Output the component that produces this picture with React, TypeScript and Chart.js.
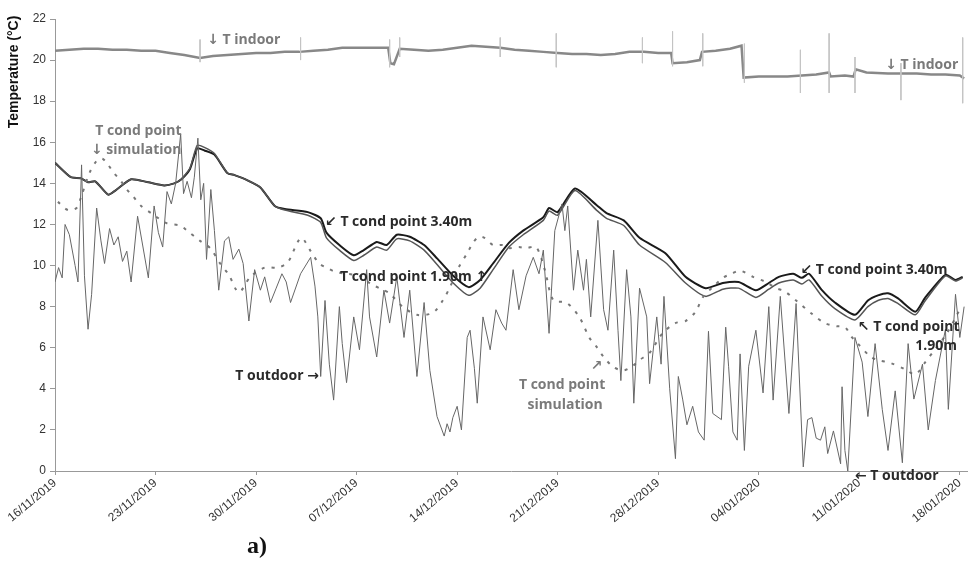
import React, { useEffect, useRef } from "react";
import { Chart, registerables } from "chart.js";

Chart.register(...registerables);

// ---- tick labels (x axis: days since 16/11/2019, one tick per week) ----
const tickDates = [
  "16/11/2019", "23/11/2019", "30/11/2019", "07/12/2019", "14/12/2019",
  "21/12/2019", "28/12/2019", "04/01/2020", "11/01/2020", "18/01/2020",
];

// ---- T indoor ----
const indoorDays = [0, 1, 2, 3, 4, 5, 6, 7, 8, 9, 10.1, 11, 12, 13, 14, 15, 16, 17, 18, 19, 20, 21, 22,
  23.2, 23.35, 23.6, 24.0, 25, 26, 27, 28, 29, 30, 31, 32, 33, 34, 35, 36, 37, 38, 39, 40, 41, 42,
  42.9, 43.0, 44, 44.9, 45.05, 46, 47, 47.8, 47.95, 49, 50, 51, 52, 53, 53.9, 54.0, 55, 55.6, 55.75, 56.5,
  58, 59, 60, 61, 62, 63, 63.3];
const indoorTemps = [20.45, 20.5, 20.55, 20.55, 20.5, 20.5, 20.45, 20.45, 20.35, 20.25, 20.1, 20.2, 20.25, 20.3, 20.35, 20.35, 20.4, 20.4, 20.45, 20.5, 20.6, 20.6, 20.6,
  20.6, 19.85, 19.8, 20.55, 20.5, 20.45, 20.5, 20.6, 20.7, 20.65, 20.6, 20.5, 20.45, 20.4, 20.35, 20.3, 20.3, 20.25, 20.3, 20.4, 20.4, 20.35,
  20.35, 19.85, 19.9, 20.0, 20.4, 20.45, 20.55, 20.7, 19.15, 19.2, 19.2, 19.2, 19.25, 19.3, 19.4, 19.2, 19.25, 19.2, 19.55, 19.4,
  19.35, 19.35, 19.35, 19.3, 19.3, 19.25, 19.1];

// short vertical glitches in the indoor record
const spikeDays = [10.1, 17.1, 23.3, 24.0, 31.0, 34.9, 40.9, 43.0, 45.1, 48.0, 51.9, 53.9, 55.7, 58.9, 63.2];
const spikeHigh = [21.0, 21.1, 21.0, 21.1, 21.1, 21.3, 21.1, 21.4, 21.3, 20.8, 20.5, 21.3, 20.15, 19.85, 21.1];
const spikeLow = [19.9, 20.0, 19.65, 20.15, 20.15, 19.65, 19.85, 19.7, 19.7, 18.9, 18.4, 18.4, 18.4, 18.05, 17.9];

// ---- T cond point 3.40m / 1.90m ----
const condDays = [0, 1.1, 1.8, 2.3, 2.8, 3.7, 4.2, 5.3, 6.5, 7.6, 8.3, 8.8, 9.4, 9.9, 10.4, 11.1, 12, 12.5, 13.4, 14.3,
  15.3, 16, 17.6, 18.5, 18.9, 19.8, 20.8, 21.5, 22.4, 23.1, 23.8, 24.7, 25.7, 26.6, 27.8, 28.8, 29.6, 30.5, 31.6, 32.6,
  34, 34.4, 35, 36.2, 37.7, 38.4, 39.6, 40.7, 42.5, 43.9, 45.3, 46.5, 47.6, 48.8, 49.7, 50.4, 51.4, 52, 52.5, 53.4,
  54.3, 55.7, 56.6, 57.3, 58, 58.7, 59.9, 60.6, 62, 62.7, 63.2];
const cond340 = [15.0, 14.3, 14.25, 14.05, 14.1, 13.45, 13.65, 14.2, 14.05, 13.9, 14.0, 14.2, 14.7, 15.7, 15.6, 15.4, 14.5, 14.4, 14.15, 13.8,
  12.9, 12.75, 12.6, 12.3, 11.6, 11.0, 10.5, 10.75, 11.15, 11.0, 11.5, 11.4, 11.0, 10.35, 9.45, 8.95, 9.3, 10.1, 11.1, 11.7,
  12.35, 12.8, 12.6, 13.75, 12.95, 12.55, 12.2, 11.35, 10.6, 9.45, 8.9, 9.15, 9.2, 8.8, 9.15, 9.45, 9.6, 9.4, 9.6, 8.8,
  8.2, 7.6, 8.3, 8.55, 8.65, 8.4, 7.75, 8.45, 9.55, 9.3, 9.45];
const cond190 = [15.0, 14.3, 14.25, 14.05, 14.1, 13.45, 13.65, 14.2, 14.05, 13.9, 14.0, 14.2, 14.75, 15.85, 15.75, 15.45, 14.5, 14.4, 14.15, 13.8,
  12.9, 12.7, 12.45, 12.1, 11.35, 10.75, 10.25, 10.5, 10.9, 10.75, 11.3, 11.2, 10.75, 10.05, 9.1, 8.55, 8.9, 9.8, 10.9, 11.5,
  12.2, 12.65, 12.45, 13.65, 12.7, 12.3, 11.95, 11.0, 10.15, 9.15, 8.5, 8.85, 8.9, 8.45, 8.85, 9.15, 9.3, 9.1, 9.3, 8.5,
  7.9, 7.35, 8.0, 8.3, 8.4, 8.15, 7.6, 8.3, 9.5, 9.25, 9.4];

// ---- T cond point simulation ----
const simDays = [0.2, 0.9, 1.5, 1.8, 2.4, 2.9, 3.3, 3.7, 4.1, 4.5, 5.0, 5.4, 6.0, 6.8, 7.8, 8.7, 9.2, 10.1, 10.8, 11.5,
  12.1, 12.8, 13.6, 14.6, 15.5, 16.2, 16.9, 17.2, 17.8, 18.4, 18.9, 19.5, 20.3, 21.2, 22.0, 22.9, 23.3, 24.2, 25.2, 26.3,
  27.0, 27.5, 28.1, 28.7, 29.1, 29.5, 29.9, 30.5, 31.2, 31.6, 32.3, 32.8, 33.5, 34.1, 34.7, 35.6, 36.5, 37.2, 37.7, 38.2,
  38.9, 39.6, 40.2, 40.7, 41.4, 42.3, 43.2, 43.9, 44.6, 45.1, 45.8, 46.5, 47.1, 47.7, 48.6, 49.5, 50.2, 50.8, 51.6, 52.7,
  53.6, 54.4, 55.0, 55.5, 55.9, 56.8, 57.3, 58.2, 59.2, 59.9, 60.6, 61.3, 62.1, 62.8, 63.1];
const simTemps = [13.1, 12.7, 12.8, 13.3, 14.5, 15.1, 15.2, 14.9, 14.5, 14.2, 13.7, 13.4, 12.9, 12.5, 12.05, 11.95, 11.7, 11.2, 10.85, 10.1,
  9.55, 8.7, 9.45, 9.9, 9.9, 10.15, 11.15, 11.35, 10.7, 10.1, 9.9, 9.7, 9.6, 9.5, 9.1, 8.8, 8.65, 8.0, 7.6, 7.7,
  8.3, 8.95, 9.9, 10.6, 11.1, 11.4, 11.35, 11.0, 11.0, 10.85, 10.9, 10.85, 10.9, 9.8, 8.3, 8.2, 7.5, 6.5, 6.05, 5.55,
  5.05, 4.9, 5.1, 5.4, 5.75, 6.7, 7.2, 7.3, 7.75, 8.45, 8.95, 9.4, 9.6, 9.75, 9.45, 9.2, 8.9, 8.75, 8.3, 7.65,
  7.2, 7.05, 7.0, 6.5, 6.2, 5.55, 5.4, 5.25, 4.95, 4.7, 5.3, 5.95, 6.7, 7.6, 8.0];

// ---- T outdoor ----
const outDays = [0.0, 0.25, 0.5, 0.7, 1.0, 1.4, 1.6, 1.85, 2.05, 2.3, 2.55, 2.9, 3.2, 3.45, 3.8, 4.1, 4.4, 4.7, 5.0, 5.3,
  5.75, 6.1, 6.5, 6.9, 7.2, 7.5, 7.8, 8.1, 8.4, 8.75, 8.95, 9.2, 9.5, 9.7, 9.95, 10.15, 10.35, 10.55, 10.85, 11.1,
  11.4, 11.8, 12.1, 12.4, 12.8, 13.1, 13.5, 13.9, 14.3, 14.6, 15.0, 15.4, 15.8, 16.1, 16.4, 17.1, 17.8, 18.1, 18.3, 18.5,
  18.8, 19.1, 19.4, 19.8, 20.0, 20.3, 20.8, 21.2, 21.7, 21.9, 22.4, 22.9, 23.3, 23.8, 24.3, 24.7, 25.2, 25.7, 26.1, 26.6,
  27.1, 27.3, 27.5, 27.7, 28.0, 28.3, 28.7, 28.9, 29.2, 29.4, 29.8, 30.3, 30.7, 31.1, 31.4, 31.9, 32.3, 32.8, 33.3, 33.7,
  34.0, 34.4, 34.8, 35.3, 35.5, 35.7, 36.1, 36.4, 36.8, 37.0, 37.3, 37.8, 38.2, 38.5, 38.9, 39.2, 39.4, 39.8, 40.1, 40.3,
  40.7, 41.2, 41.4, 41.9, 42.2, 42.4, 42.8, 43.2, 43.4, 43.7, 44.0, 44.4, 44.8, 45.2, 45.5, 45.8, 46.4, 46.7, 46.9, 47.2,
  47.5, 47.7, 48.0, 48.3, 48.8, 49.3, 49.7, 50.0, 50.5, 51.1, 51.6, 52.1, 52.4, 52.7, 53.0, 53.3, 53.6, 53.8, 54.2, 54.7,
  54.8, 55.0, 55.2, 55.7, 56.2, 56.6, 57.1, 57.6, 58.0, 58.5, 59.0, 59.4, 59.8, 60.4, 60.8, 61.3, 62.0, 62.2, 62.7, 63.0, 63.3];
const outTemps = [9.2, 9.9, 9.4, 12.0, 11.5, 10.0, 9.2, 14.9, 9.5, 6.9, 8.6, 12.8, 11.2, 10.1, 11.8, 11.0, 11.4, 10.2, 10.7, 9.2,
  12.4, 11.0, 9.4, 12.9, 11.6, 10.9, 13.6, 13.0, 14.0, 16.4, 13.5, 14.1, 13.3, 14.3, 16.2, 13.2, 14.0, 10.3, 13.7, 11.7,
  8.8, 11.2, 11.4, 10.3, 10.8, 10.1, 7.3, 9.8, 8.8, 9.45, 8.2, 8.9, 9.6, 9.2, 8.2, 9.6, 10.4, 9.0, 7.5, 4.6,
  8.3, 5.2, 3.45, 8.0, 6.2, 4.3, 7.5, 5.9, 9.8, 7.5, 5.55, 8.8, 7.2, 9.45, 6.5, 8.8, 4.6, 8.2, 4.9, 2.65,
  1.7, 2.3, 1.9, 2.6, 3.15, 2.0, 6.5, 6.85, 5.0, 3.3, 7.5, 5.9, 7.85, 7.2, 6.85, 9.8, 7.85, 9.5, 10.4, 9.6,
  10.75, 6.7, 11.7, 13.0, 11.7, 12.9, 8.8, 10.75, 8.8, 10.3, 7.5, 12.2, 7.85, 6.85, 10.75, 6.85, 4.4, 9.8, 7.5, 3.3,
  8.9, 7.5, 4.25, 7.5, 5.2, 8.5, 4.0, 0.6, 4.6, 3.5, 2.25, 3.15, 1.9, 1.5, 6.8, 2.8, 2.5, 7.0, 5.1, 1.9,
  1.5, 5.7, 1.0, 5.1, 6.85, 3.8, 8.0, 3.45, 8.5, 2.8, 8.15, 0.2, 2.5, 2.6, 1.6, 1.5, 2.15, 0.85, 1.95, 0.35,
  4.1, 1.0, 0.0, 6.5, 5.3, 2.65, 6.2, 3.0, 1.0, 3.9, 0.4, 6.2, 3.5, 5.2, 2.0, 4.4, 6.9, 3.0, 8.6, 6.5, 8.0];

// ---- text annotations (placed in data units: day, °C) ----
const noteTexts = [
  "↓ T indoor", "↓ T indoor", "T cond point", "↓ simulation", "↙ T cond point 3.40m",
  "T cond point 1.90m ↑", "T outdoor →", "↗", "T cond point", "simulation",
  "↙ T cond point 3.40m", "↖ T cond point", "1.90m", "← T outdoor",
];
const noteDays = [10.6, 57.8, 2.8, 2.5, 18.8, 19.85, 12.55, 37.3, 32.3, 32.9, 51.9, 55.9, 59.9, 55.7];
const noteTemps = [21.0, 19.75, 16.55, 15.6, 12.1, 9.45, 4.6, 5.1, 4.2, 3.2, 9.8, 7.0, 6.1, -0.25];
const noteGray = [true, true, true, true, false, false, false, true, true, true, false, false, false, false];

const zip = (xs: number[], ys: number[]) =>
  xs.slice(0, Math.min(xs.length, ys.length)).map((x, i) => ({ x, y: ys[i] }));

const spikePoints = () => {
  const pts: { x: number; y: number | null }[] = [];
  spikeDays.forEach((d, i) => {
    pts.push({ x: d, y: spikeHigh[i] }, { x: d, y: spikeLow[i] }, { x: d, y: null });
  });
  return pts;
};

export default function App() {
  const ref = useRef<HTMLCanvasElement>(null);

  useEffect(() => {
    const canvas = ref.current;
    if (!canvas) return;

    const notesPlugin = {
      id: "notes",
      afterDatasetsDraw(chart: any) {
        const { ctx, scales } = chart;
        ctx.save();
        ctx.textBaseline = "middle";
        ctx.textAlign = "left";
        ctx.font = 'bold 14px "Open Sans", "DejaVu Sans", sans-serif';
        noteTexts.forEach((t, i) => {
          ctx.fillStyle = noteGray[i] ? "#7a7a7a" : "#2a2a2a";
          ctx.fillText(t, scales.x.getPixelForValue(noteDays[i]), scales.y.getPixelForValue(noteTemps[i]));
        });
        // y-axis title
        ctx.save();
        ctx.translate(14, 72);
        ctx.rotate(-Math.PI / 2);
        ctx.textAlign = "center";
        ctx.fillStyle = "#111";
        ctx.font = 'bold 14px "Liberation Sans", Arial, sans-serif';
        ctx.fillText("Temperature (°C)", 0, 0);
        ctx.restore();
        // panel letter
        ctx.textAlign = "center";
        ctx.fillStyle = "#111";
        ctx.font = 'bold 24px "Liberation Serif", serif';
        ctx.fillText("a)", 257, 547);
        ctx.restore();
      },
    };

    const chart = new Chart(canvas, {
      type: "line",
      data: {
        datasets: [
          {
            label: "T indoor glitches",
            data: spikePoints(),
            borderColor: "#c4c4c4",
            borderWidth: 1,
            pointRadius: 0,
            spanGaps: false,
          },
          {
            label: "T outdoor",
            data: zip(outDays, outTemps),
            borderColor: "#666",
            borderWidth: 1,
            pointRadius: 0,
            tension: 0,
          },
          {
            label: "T cond point simulation",
            data: zip(simDays, simTemps),
            borderColor: "#777",
            borderWidth: 2,
            borderDash: [3, 7],
            pointRadius: 0,
            tension: 0.3,
          },
          {
            label: "T indoor",
            data: zip(indoorDays, indoorTemps),
            borderColor: "#888",
            borderWidth: 2.5,
            pointRadius: 0,
            tension: 0,
          },
          {
            label: "T cond point 1.90m",
            data: zip(condDays, cond190),
            borderColor: "#555",
            borderWidth: 1.5,
            pointRadius: 0,
            tension: 0.2,
          },
          {
            label: "T cond point 3.40m",
            data: zip(condDays, cond340),
            borderColor: "#1a1a1a",
            borderWidth: 2,
            pointRadius: 0,
            tension: 0.2,
          },
        ],
      },
      options: {
        animation: false,
        responsive: false,
        parsing: false,
        layout: { padding: { top: 19, right: 6, left: 0, bottom: 0 } },
        plugins: { legend: { display: false }, tooltip: { enabled: false } },
        scales: {
          x: {
            type: "linear",
            min: 0,
            max: 63.5,
            grid: { drawOnChartArea: false, drawTicks: true, tickLength: 4, color: "#999" },
            border: { color: "#999", width: 1 },
            ticks: {
              stepSize: 7,
              includeBounds: false,
              autoSkip: false,
              minRotation: 40,
              maxRotation: 40,
              padding: 1,
              color: "#333",
              font: { family: '"Liberation Sans", Arial, sans-serif', size: 12 },
              callback: (v: any) => {
                const i = Math.round(Number(v) / 7);
                return Math.abs(Number(v) - i * 7) < 1e-6 ? tickDates[i] ?? "" : "";
              },
            },
            afterFit: (s: any) => {
              s.height = 97;
            },
          },
          y: {
            min: 0,
            max: 22,
            grid: { drawOnChartArea: false, drawTicks: true, tickLength: 5, color: "#999" },
            border: { color: "#999", width: 1 },
            ticks: {
              stepSize: 2,
              padding: 4,
              color: "#333",
              font: { family: '"Liberation Sans", Arial, sans-serif', size: 12 },
            },
            afterFit: (s: any) => {
              s.width = 55;
            },
          },
        },
      },
      plugins: [notesPlugin],
    } as any);

    return () => chart.destroy();
  }, []);

  return (
    <div style={{ position: "fixed", left: 0, top: 0, width: 973, height: 568, background: "#fff" }}>
      <canvas ref={ref} width={973} height={568} style={{ width: 973, height: 568, display: "block" }} />
    </div>
  );
}
